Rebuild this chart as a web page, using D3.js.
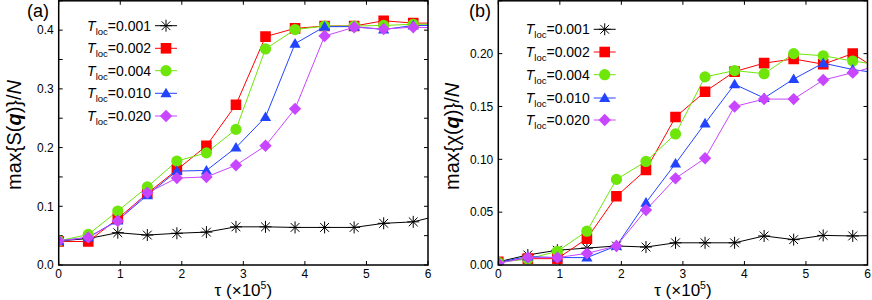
<!DOCTYPE html>
<html>
<head>
<meta charset="utf-8">
<script src="https://cdn.jsdelivr.net/npm/d3@7"></script>
<style>
  body { margin: 0; background: #fff; }
  svg { display: block; font-family: "Liberation Sans", Arial, sans-serif; }
</style>
</head>
<body>
<svg id="chart" width="872" height="300"></svg>
<script>
// tau in units of 1e5 (last point lies beyond the axis and is clipped)
const tau = [0, 0.48, 0.96, 1.44, 1.92, 2.4, 2.88, 3.36, 3.84, 4.32, 4.8, 5.28, 5.76, 6.24];

const tlocLabels = ["0.001", "0.002", "0.004", "0.010", "0.020"];
const colors = ["#000000", "#ff0000", "#6ee60a", "#2244ff", "#c846ff"];
const shapes = ["star", "square", "circle", "triangle", "diamond"];

// panel (a): max{S(q)}/N
const sA001 = [0.041, 0.045, 0.055, 0.051, 0.054, 0.056, 0.065, 0.065, 0.064, 0.064, 0.064, 0.071, 0.0735, 0.086];
const sA002 = [0.040, 0.040, 0.079, 0.122, 0.162, 0.203, 0.273, 0.389, 0.403, 0.407, 0.407, 0.416, 0.412, 0.412];
const sA004 = [0.041, 0.052, 0.092, 0.133, 0.177, 0.191, 0.231, 0.368, 0.401, 0.407, 0.407, 0.408, 0.410, 0.410];
const sA010 = [0.041, 0.047, 0.076, 0.119, 0.160, 0.161, 0.200, 0.252, 0.377, 0.406, 0.406, 0.401, 0.408, 0.408];
const sA020 = [0.041, 0.047, 0.075, 0.123, 0.148, 0.150, 0.170, 0.203, 0.266, 0.390, 0.405, 0.402, 0.405, 0.404];

// panel (b): max{chi(q)}/N
const sB001 = [0.003, 0.0095, 0.014, 0.016, 0.018, 0.017, 0.021, 0.021, 0.021, 0.0275, 0.024, 0.028, 0.0275, 0.028];
const sB002 = [0.003, 0.006, 0.006, 0.025, 0.065, 0.090, 0.140, 0.164, 0.183, 0.191, 0.195, 0.190, 0.200, 0.182];
const sB004 = [0.0025, 0.0057, 0.013, 0.032, 0.081, 0.098, 0.124, 0.178, 0.184, 0.181, 0.200, 0.198, 0.193, 0.189];
const sB010 = [0.0025, 0.008, 0.007, 0.007, 0.018, 0.059, 0.096, 0.134, 0.171, 0.158, 0.176, 0.191, 0.185, 0.181];
const sB020 = [0.0016, 0.007, 0.007, 0.011, 0.018, 0.052, 0.082, 0.101, 0.150, 0.157, 0.157, 0.175, 0.182, 0.190];

const xTicks = [0, 1, 2, 3, 4, 5, 6];
const yTicksA = [0, 0.05, 0.1, 0.15, 0.2, 0.25, 0.3, 0.35, 0.4, 0.45];
const yLabelsA = [0, 0.1, 0.2, 0.3, 0.4];
const yTicksB = [0, 0.05, 0.1, 0.15, 0.2, 0.25];
const yLabelsB = [0, 0.05, 0.1, 0.15, 0.2];

const svg = d3.select("#chart");

function markerPath(shape) {
    switch (shape) {
        case "square": return "M-5.3,-5.3H5.3V5.3H-5.3Z";
        case "triangle": return "M0,-5.6L5.6,4L-5.6,4Z";
        case "diamond": return "M0,-6.2L6.2,0L0,6.2L-6.2,0Z";
        case "star": return "M-6,0H6M0,-6V6M-4.4,-4.4L4.4,4.4M-4.4,4.4L4.4,-4.4";
    }
    return null;
}

function drawMarker(g, shape, color, x, y) {
    if (shape === "circle") {
        g.append("circle").attr("cx", x).attr("cy", y).attr("r", 5.6).attr("fill", color);
    } else if (shape === "star") {
        g.append("path").attr("transform", `translate(${x},${y})`)
            .attr("d", markerPath(shape)).attr("fill", "none")
            .attr("stroke", color).attr("stroke-width", 1);
    } else {
        g.append("path").attr("transform", `translate(${x},${y})`)
            .attr("d", markerPath(shape)).attr("fill", color);
    }
}

function drawPanel(cfg) {
    const x = d3.scaleLinear().domain([0, 6]).range([cfg.left, cfg.right]);
    const y = d3.scaleLinear().domain([0, cfg.yMax]).range([265, 0.8]);
    const g = svg.append("g");

    g.append("clipPath").attr("id", "clip-" + cfg.id)
        .append("rect")
        .attr("x", cfg.left).attr("y", 0.8)
        .attr("width", cfg.right - cfg.left).attr("height", 265 - 0.8);

    // ticks, inward on all four sides
    const tk = g.append("g").attr("stroke", "#000").attr("stroke-width", 1);
    xTicks.forEach(t => {
        tk.append("line").attr("x1", x(t)).attr("x2", x(t)).attr("y1", 265).attr("y2", 261);
        tk.append("line").attr("x1", x(t)).attr("x2", x(t)).attr("y1", 0.8).attr("y2", 4.8);
    });
    cfg.yTicks.forEach(t => {
        tk.append("line").attr("x1", cfg.left).attr("x2", cfg.left + 4).attr("y1", y(t)).attr("y2", y(t));
        tk.append("line").attr("x1", cfg.right).attr("x2", cfg.right - 4).attr("y1", y(t)).attr("y2", y(t));
    });

    // tick labels
    g.selectAll(".xl").data(xTicks).enter().append("text")
        .attr("x", d => x(d)).attr("y", 277.5)
        .attr("text-anchor", "middle").style("font-size", "12px")
        .text(d => d);
    g.selectAll(".yl").data(cfg.yLabels).enter().append("text")
        .attr("x", cfg.left - 5).attr("y", d => y(d)).attr("dy", "0.36em")
        .attr("text-anchor", "end").style("font-size", "12px")
        .text(d => d3.format(cfg.fmt)(d));

    // data lines and markers
    const plot = g.append("g").attr("clip-path", `url(#clip-${cfg.id})`);
    const line = d3.line().x((d, i) => x(tau[i])).y(d => y(d));
    cfg.series.forEach((vals, k) => {
        plot.append("path").datum(vals)
            .attr("d", line).attr("fill", "none")
            .attr("stroke", colors[k]).attr("stroke-width", 1);
    });
    cfg.series.forEach((vals, k) => {
        vals.forEach((v, i) => drawMarker(plot, shapes[k], colors[k], x(tau[i]), y(v)));
    });

    // legend
    cfg.legendY.forEach((ly, k) => {
        g.append("line")
            .attr("x1", cfg.legendX - 11).attr("x2", cfg.legendX + 11)
            .attr("y1", ly).attr("y2", ly)
            .attr("stroke", colors[k]).attr("stroke-width", 1);
        drawMarker(g, shapes[k], colors[k], cfg.legendX, ly);
        const t = g.append("text")
            .attr("x", cfg.legendX - 15).attr("y", ly + 5)
            .attr("text-anchor", "end").style("font-size", "14px");
        t.append("tspan").style("font-style", "italic").text("T");
        t.append("tspan").attr("dy", 4).style("font-size", "9.5px").text("loc");
        t.append("tspan").attr("dy", -4).text("=" + tlocLabels[k]);
    });

    // frame
    g.append("rect")
        .attr("x", cfg.left).attr("y", 0.8)
        .attr("width", cfg.right - cfg.left).attr("height", 265 - 0.8)
        .attr("fill", "none").attr("stroke", "#000").attr("stroke-width", 1.5);

    // axis titles
    const xt = g.append("text")
        .attr("x", (cfg.left + cfg.right) / 2).attr("y", 295.5)
        .attr("text-anchor", "middle").style("font-size", "17px");
    xt.append("tspan").text("\u03c4 (\u00d710");
    xt.append("tspan").attr("dy", -7).style("font-size", "10.5px").text("5");
    xt.append("tspan").attr("dy", 7).text(")");

    const yt = g.append("text")
        .attr("transform", `translate(${cfg.yTitleX},190) rotate(-90)`)
        .attr("text-anchor", "start").style("font-size", "20px");
    yt.append("tspan").text("max{" + cfg.func + "(");
    yt.append("tspan").style("font-weight", "bold").style("font-style", "italic").text("q");
    yt.append("tspan").text(")}/");
    yt.append("tspan").style("font-style", "italic").text("N");

    g.append("text")
        .attr("x", cfg.tagX).attr("y", 17)
        .style("font-size", "18px")
        .text(cfg.tag);
}

drawPanel({
    id: "a", left: 58.7, right: 428, yMax: 0.45,
    yTicks: yTicksA, yLabels: yLabelsA, fmt: ".1f",
    series: [sA001, sA002, sA004, sA010, sA020],
    legendX: 166, legendY: [25.7, 48.3, 70.7, 93.3, 116],
    yTitleX: 21, func: "S", tag: "(a)", tagX: 27
});

drawPanel({
    id: "b", left: 498.3, right: 867.5, yMax: 0.25,
    yTicks: yTicksB, yLabels: yLabelsB, fmt: ".2f",
    series: [sB001, sB002, sB004, sB010, sB020],
    legendX: 604.7, legendY: [29.3, 52, 74.7, 98, 120],
    yTitleX: 459, func: "\u03c7", tag: "(b)", tagX: 469
});
</script>
</body>
</html>
